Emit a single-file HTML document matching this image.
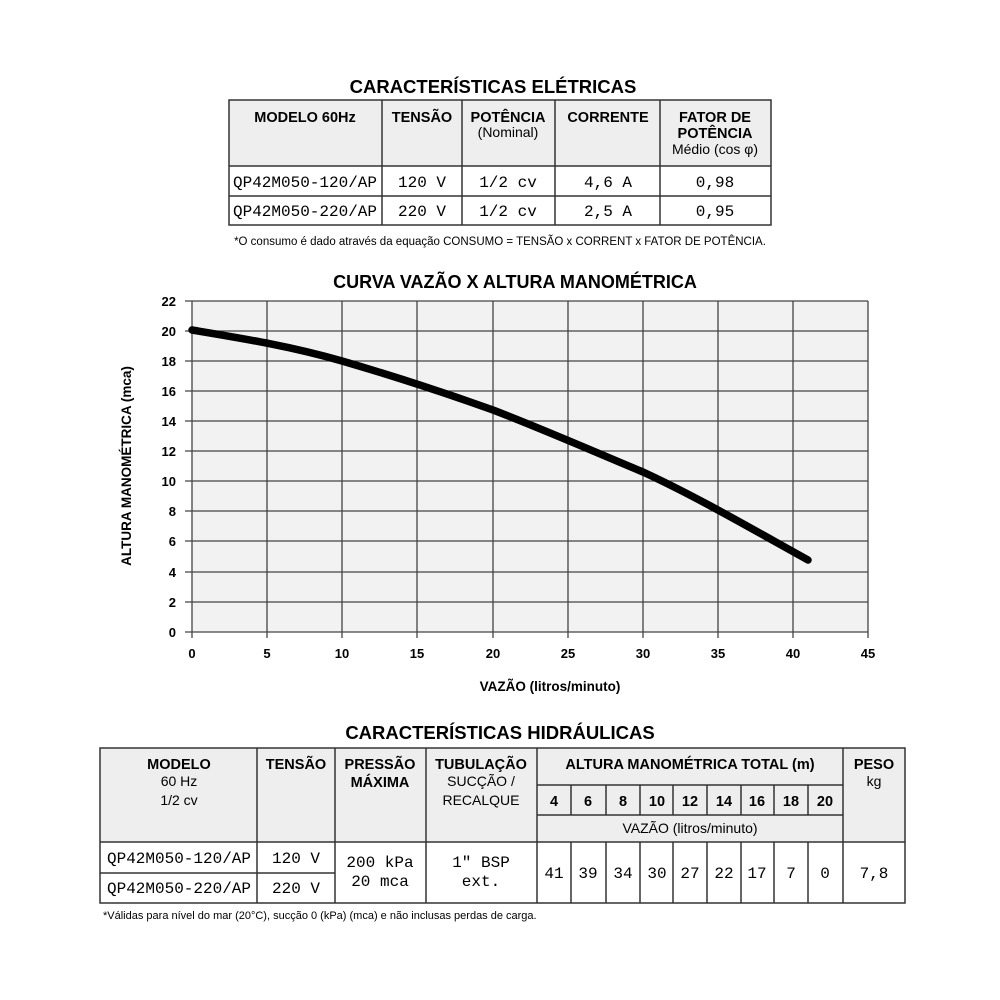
<!DOCTYPE html>
<html><head><meta charset="utf-8"><style>
body{margin:0;background:#fff;}
svg{display:block;font-family:"Liberation Sans",sans-serif;}
.m{font-family:"Liberation Mono",monospace;font-size:16px;}
.b{font-weight:bold;}
</style></head><body>
<svg width="1000" height="1000" viewBox="0 0 1000 1000">
<rect width="1000" height="1000" fill="#fff"/>
<!-- Top table -->
<text x="493" y="93" text-anchor="middle" class="b" font-size="18.5">CARACTERÍSTICAS ELÉTRICAS</text>
<rect x="229" y="100" width="542" height="66" fill="#eeeeee"/>
<g stroke="#333" stroke-width="1.5" fill="none">
<rect x="229" y="100" width="542" height="125"/>
<line x1="229" y1="166" x2="771" y2="166"/><line x1="229" y1="196" x2="771" y2="196"/>
<line x1="382" y1="100" x2="382" y2="225"/><line x1="462" y1="100" x2="462" y2="225"/>
<line x1="555" y1="100" x2="555" y2="225"/><line x1="660" y1="100" x2="660" y2="225"/>
</g>
<g class="b" font-size="14.5" text-anchor="middle">
<text x="305" y="122">MODELO 60Hz</text><text x="422" y="122">TENSÃO</text>
<text x="508" y="122">POTÊNCIA</text><text x="608" y="122">CORRENTE</text>
<text x="715" y="122">FATOR DE</text><text x="715" y="138">POTÊNCIA</text>
</g>
<g font-size="14" text-anchor="middle"><text x="508" y="137">(Nominal)</text><text x="715" y="154">Médio (cos φ)</text></g>
<g class="m" text-anchor="middle">
<text x="305" y="187">QP42M050-120/AP</text><text x="422" y="187">120 V</text><text x="508" y="187">1/2 cv</text><text x="608" y="187">4,6 A</text><text x="715" y="187">0,98</text>
<text x="305" y="216">QP42M050-220/AP</text><text x="422" y="216">220 V</text><text x="508" y="216">1/2 cv</text><text x="608" y="216">2,5 A</text><text x="715" y="216">0,95</text>
</g>
<text x="500" y="245" text-anchor="middle" font-size="11.5">*O consumo é dado através da equação CONSUMO = TENSÃO  x CORRENT x FATOR DE POTÊNCIA.</text>

<!-- Chart -->
<text x="515" y="288" text-anchor="middle" class="b" font-size="18">CURVA VAZÃO X ALTURA MANOMÉTRICA</text>
<rect x="192" y="301" width="676" height="331" fill="#f2f2f2"/>
<g stroke="#444" stroke-width="1.3">
<line x1="185" y1="632" x2="868" y2="632"/><line x1="185" y1="602" x2="868" y2="602"/><line x1="185" y1="572" x2="868" y2="572"/><line x1="185" y1="541" x2="868" y2="541"/><line x1="185" y1="511" x2="868" y2="511"/><line x1="185" y1="481" x2="868" y2="481"/><line x1="185" y1="451" x2="868" y2="451"/><line x1="185" y1="421" x2="868" y2="421"/><line x1="185" y1="391" x2="868" y2="391"/><line x1="185" y1="361" x2="868" y2="361"/><line x1="185" y1="331" x2="868" y2="331"/><line x1="185" y1="301" x2="868" y2="301"/>
<line x1="192" y1="301" x2="192" y2="638"/><line x1="267" y1="301" x2="267" y2="638"/><line x1="342" y1="301" x2="342" y2="638"/><line x1="417" y1="301" x2="417" y2="638"/><line x1="493" y1="301" x2="493" y2="638"/><line x1="568" y1="301" x2="568" y2="638"/><line x1="643" y1="301" x2="643" y2="638"/><line x1="718" y1="301" x2="718" y2="638"/><line x1="793" y1="301" x2="793" y2="638"/><line x1="868" y1="301" x2="868" y2="638"/>
</g>
<g class="b" font-size="13" text-anchor="end">
<text x="176" y="637">0</text><text x="176" y="607">2</text><text x="176" y="577">4</text><text x="176" y="546">6</text><text x="176" y="516">8</text><text x="176" y="486">10</text><text x="176" y="456">12</text><text x="176" y="426">14</text><text x="176" y="396">16</text><text x="176" y="366">18</text><text x="176" y="336">20</text><text x="176" y="306">22</text>
</g>
<g class="b" font-size="13" text-anchor="middle">
<text x="192" y="658">0</text><text x="267" y="658">5</text><text x="342" y="658">10</text><text x="417" y="658">15</text><text x="493" y="658">20</text><text x="568" y="658">25</text><text x="643" y="658">30</text><text x="718" y="658">35</text><text x="793" y="658">40</text><text x="868" y="658">45</text>
</g>
<text x="550" y="691" text-anchor="middle" class="b" font-size="13.5">VAZÃO (litros/minuto)</text>
<text transform="translate(131,466) rotate(-90)" text-anchor="middle" class="b" font-size="13.5">ALTURA MANOMÉTRICA (mca)</text>
<path d="M192,330 C240,338 290,346 342,361 C390,375 440,391 493,410 C545,430 595,452 643,472 C695,496 745,525 808,560" fill="none" stroke="#000" stroke-width="7.5" stroke-linecap="round"/>

<!-- Bottom table -->
<text x="500" y="739" text-anchor="middle" class="b" font-size="18.5">CARACTERÍSTICAS HIDRÁULICAS</text>
<rect x="100" y="748" width="805" height="94" fill="#eeeeee"/>
<g stroke="#333" stroke-width="1.5" fill="none">
<rect x="100" y="748" width="805" height="155"/>
<line x1="100" y1="842" x2="905" y2="842"/>
<line x1="100" y1="873" x2="335" y2="873"/>
<line x1="537" y1="785" x2="843" y2="785"/><line x1="537" y1="815" x2="843" y2="815"/>
<line x1="257" y1="748" x2="257" y2="903"/><line x1="335" y1="748" x2="335" y2="903"/>
<line x1="426" y1="748" x2="426" y2="903"/><line x1="537" y1="748" x2="537" y2="903"/>
<line x1="843" y1="748" x2="843" y2="903"/>
<line x1="571" y1="785" x2="571" y2="815"/><line x1="606" y1="785" x2="606" y2="815"/><line x1="640" y1="785" x2="640" y2="815"/><line x1="673" y1="785" x2="673" y2="815"/><line x1="707" y1="785" x2="707" y2="815"/><line x1="741" y1="785" x2="741" y2="815"/><line x1="774" y1="785" x2="774" y2="815"/><line x1="808" y1="785" x2="808" y2="815"/>
<line x1="571" y1="842" x2="571" y2="903"/><line x1="606" y1="842" x2="606" y2="903"/><line x1="640" y1="842" x2="640" y2="903"/><line x1="673" y1="842" x2="673" y2="903"/><line x1="707" y1="842" x2="707" y2="903"/><line x1="741" y1="842" x2="741" y2="903"/><line x1="774" y1="842" x2="774" y2="903"/><line x1="808" y1="842" x2="808" y2="903"/>
</g>
<g class="b" font-size="14.5" text-anchor="middle">
<text x="179" y="769">MODELO</text><text x="296" y="769">TENSÃO</text><text x="380" y="769">PRESSÃO</text><text x="380" y="787">MÁXIMA</text>
<text x="481" y="769">TUBULAÇÃO</text><text x="690" y="769">ALTURA MANOMÉTRICA TOTAL (m)</text><text x="874" y="769">PESO</text>
<text x="554" y="806">4</text><text x="588" y="806">6</text><text x="623" y="806">8</text><text x="657" y="806">10</text><text x="690" y="806">12</text><text x="724" y="806">14</text><text x="757" y="806">16</text><text x="791" y="806">18</text><text x="825" y="806">20</text>
</g>
<g font-size="14" text-anchor="middle">
<text x="179" y="786">60 Hz</text><text x="179" y="805">1/2 cv</text>
<text x="481" y="786">SUCÇÃO /</text><text x="481" y="805">RECALQUE</text>
<text x="874" y="786">kg</text><text x="690" y="833">VAZÃO (litros/minuto)</text>
</g>
<g class="m" text-anchor="middle">
<text x="179" y="863">QP42M050-120/AP</text><text x="296" y="863">120 V</text>
<text x="179" y="893">QP42M050-220/AP</text><text x="296" y="893">220 V</text>
<text x="380" y="867">200 kPa</text><text x="380" y="886">20 mca</text>
<text x="481" y="867">1" BSP</text><text x="481" y="886">ext.</text>
<text x="554" y="878">41</text><text x="588" y="878">39</text><text x="623" y="878">34</text><text x="657" y="878">30</text><text x="690" y="878">27</text><text x="724" y="878">22</text><text x="757" y="878">17</text><text x="791" y="878">7</text><text x="825" y="878">0</text><text x="874" y="878">7,8</text>
</g>
<text x="103" y="919" font-size="11">*Válidas para nível do  mar (20°C), sucção 0 (kPa) (mca) e não inclusas perdas de carga.</text>
</svg>
</body></html>
